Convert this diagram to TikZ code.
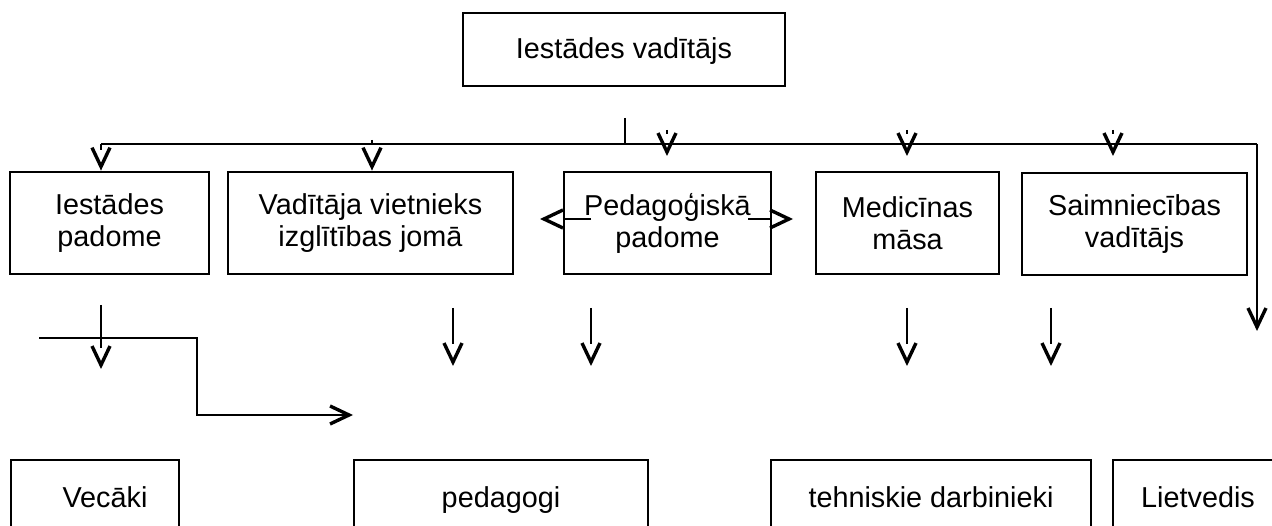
\documentclass[tikz,border=0pt]{standalone}
\usepackage{fontspec}
\setmainfont{Liberation Sans}
\usetikzlibrary{arrows.meta}
\newcommand\bxfont{\fontsize{28.8}{32}\selectfont}
\tikzset{
  box/.style={draw=black, line width=2.8pt, inner sep=0pt, align=center, font=\bxfont},
  lone/.style={box, text height=24pt, text depth=6pt},
  conn/.style={draw=black, line width=1.2pt},
  vtip/.style={conn, -{Straight Barb[length=19pt 0, width=18pt 0, line width=3.4pt 0]}},
}
\begin{document}
\begin{tikzpicture}[x=1pt,y=-1pt]
\path[use as bounding box] (0,0) rectangle (1272,526);
\clip (0,0) rectangle (1272,526);
% boxes
\node[lone, minimum width=322pt, minimum height=73pt] (head) at (624,49.5) {Iestādes vadītājs};
\node[box, minimum width=199pt, minimum height=102pt] (b1) at (109.5,223) {Iestādes\\padome};
\node[box, minimum width=285pt, minimum height=102pt] (b2) at (370.5,223) {Vadītāja vietnieks\\izglītības jomā};
\node[box, minimum width=207pt, minimum height=102pt] (b3) at (667.5,223) {Pedagoģiskā\\padome};
\node[box, minimum width=183pt, minimum height=102pt] (b4) at (907.5,223) {Medicīnas\\māsa};
\node[box, minimum width=225pt, minimum height=102pt] (b5) at (1134.5,224) {Saimniecības\\vadītājs};
\node[lone, minimum width=168pt, minimum height=76pt] (vec) at (95,498) {\hspace*{20pt}Vecāki};
\node[lone, minimum width=294pt, minimum height=76pt] (ped) at (501,498) {pedagogi};
\node[lone, minimum width=320pt, minimum height=76pt] (teh) at (931,498) {tehniskie darbinieki};
\node[lone, minimum width=170pt, minimum height=76pt] (lie) at (1198,498) {Lietvedis};
% coordinates
\coordinate (hub) at (625,118);
\coordinate (busL) at (101,144);
\coordinate (busR) at (1257,144);
\coordinate (endR) at (1257,331);
\coordinate (t2) at (372,140);
\coordinate (t3) at (667,130);
\coordinate (t3e) at (667,156);
\coordinate (t4) at (907,130);
\coordinate (t4e) at (907,156);
\coordinate (t5) at (1113,130);
\coordinate (t5e) at (1113,156);
\coordinate (d1) at (101,305);
\coordinate (d1e) at (101,369);
\coordinate (d2) at (453,308);
\coordinate (d2e) at (453,366);
\coordinate (d3) at (591,308);
\coordinate (d3e) at (591,366);
\coordinate (d4) at (907,308);
\coordinate (d4e) at (907,366);
\coordinate (d5) at (1051,308);
\coordinate (d5e) at (1051,366);
\coordinate (ls) at (39,338);
\coordinate (lk) at (197,338);
\coordinate (le) at (353,415);
\coordinate (pls) at (591,219);
\coordinate (ple) at (540,219);
\coordinate (prs) at (748,219);
\coordinate (pre) at (793,219);
% connectors
\draw[conn] (hub) -- (hub |- busL);
\draw[conn] (busL) -- (busR);
\draw[vtip] (busR) -- (endR);
\draw[vtip, dash pattern=on 6pt off 300pt] (busL) -- (busL |- b1.north);
\draw[vtip, dash pattern=on 4pt off 300pt] (t2) -- (t2 |- b2.north);
\draw[vtip, dash pattern=on 4pt off 300pt] (t3) -- (t3e);
\draw[vtip, dash pattern=on 4pt off 300pt] (t4) -- (t4e);
\draw[vtip, dash pattern=on 4pt off 300pt] (t5) -- (t5e);
\draw[vtip, dash pattern=on 43pt off 300pt] (d1) -- (d1e);
\draw[vtip, dash pattern=on 36pt off 300pt] (d2) -- (d2e);
\draw[vtip, dash pattern=on 36pt off 300pt] (d3) -- (d3e);
\draw[vtip, dash pattern=on 36pt off 300pt] (d4) -- (d4e);
\draw[vtip, dash pattern=on 36pt off 300pt] (d5) -- (d5e);
\draw[vtip] (ls) -- (lk) |- (le);
\draw[vtip, dash pattern=on 28pt off 300pt] (pls) -- (ple);
\draw[vtip, dash pattern=on 22pt off 300pt] (prs) -- (pre);
\end{tikzpicture}
\end{document}
